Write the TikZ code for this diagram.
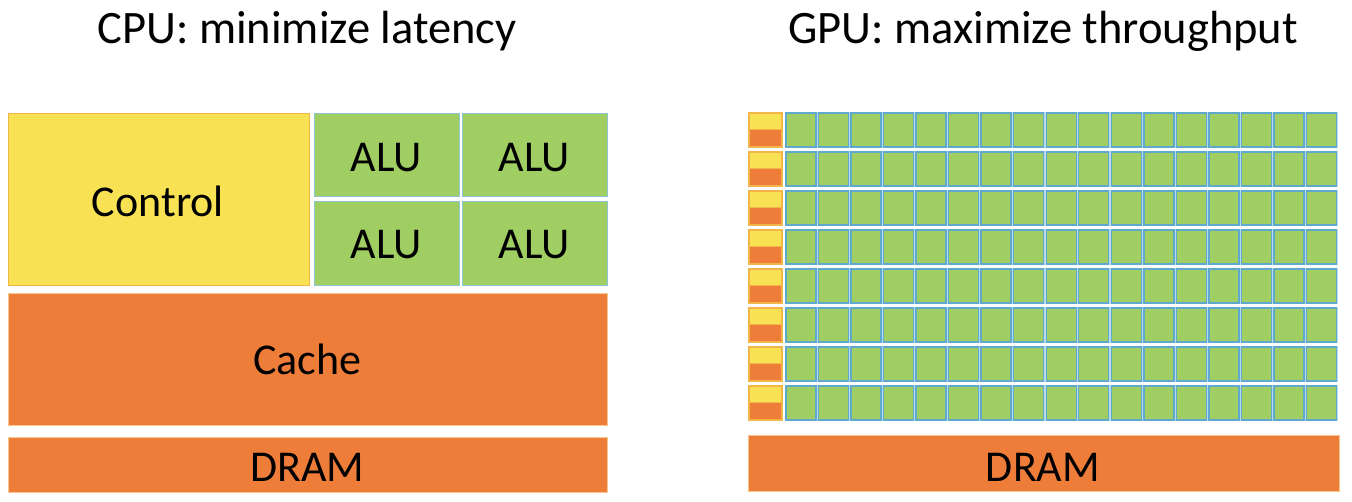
\documentclass[tikz,border=0pt]{standalone}
\usepackage{fontspec}
\setmainfont{Carlito}
\definecolor{ctlY}{HTML}{F8E152}
\definecolor{ctlB}{HTML}{F2B54A}
\definecolor{orF}{HTML}{EE7D3A}
\definecolor{orB}{HTML}{F6C890}
\definecolor{grF}{HTML}{A0CE63}
\definecolor{aluB}{HTML}{8EC6D6}
\definecolor{cellB}{HTML}{5FA9CF}
\definecolor{cellG}{HTML}{B8DCEB}
\begin{document}
\begin{tikzpicture}[x=1pt,y=-1pt,
  lbl/.style={anchor=base,inner sep=0pt,font=\fontsize{44}{50}\selectfont},
  ttl/.style={anchor=base,inner sep=0pt,font=\fontsize{46.5}{52}\selectfont},
  ctlbox/.style={fill=ctlY,draw=ctlB,line width=1pt},
  alubox/.style={fill=grF,draw=aluB,line width=1pt},
  cachebox/.style={fill=orF,draw=orB,line width=1pt},
  cellbox/.style={fill=grF,draw=cellB,line width=1.4pt},
]
\useasboundingbox (0,0) rectangle (1352,502);
% titles
\node[ttl] (tcpu) at (307,44) {CPU: minimize latency};
\node[ttl] (tgpu) at (1043,44) {GPU: maximize throughput};
% CPU
\draw[ctlbox] (8,114) rectangle (309,286);
\node[lbl] (control) at (158,217) {Control};
\draw[alubox] (314,114) rectangle (459,197);
\draw[alubox] (462,114) rectangle (607,197);
\draw[alubox] (314,202) rectangle (459,286);
\draw[alubox] (462,202) rectangle (607,286);
\node[lbl] (alu1) at (386.5,172) {ALU};
\node[lbl] (alu2) at (534.5,172) {ALU};
\node[lbl] (alu3) at (386.5,259) {ALU};
\node[lbl] (alu4) at (534.5,259) {ALU};
\draw[cachebox] (8,294) rectangle (607,425);
\node[lbl] (cache) at (307.5,375) {Cache};
\draw[cachebox] (8,437) rectangle (607,492);
\node[lbl] (dram1) at (307.5,481) {DRAM};
% GPU
\foreach \j in {0,...,7}{
  \pgfmathsetmacro{\yt}{113+39*\j}
  \fill[ctlY] (749,\yt) rectangle (782,\yt+17);
  \fill[orF] (749,\yt+17) rectangle (782,\yt+34);
  \draw[ctlB,line width=1pt] (749,\yt+17) -- (782,\yt+17);
  \draw[draw=ctlB,line width=1.2pt] (749,\yt) rectangle (782,\yt+34);
  \foreach \i in {0,...,16}{
    \pgfmathsetmacro{\xl}{786+32.53*\i}
    \draw[cellG,line width=2.6pt] (\xl,\yt) rectangle (\xl+30,\yt+34);
    \draw[cellbox] (\xl,\yt) rectangle (\xl+30,\yt+34);
  }
}
\draw[cachebox] (748,435) rectangle (1339,491);
\node[lbl] (dram2) at (1043,481) {DRAM};
\end{tikzpicture}
\end{document}
